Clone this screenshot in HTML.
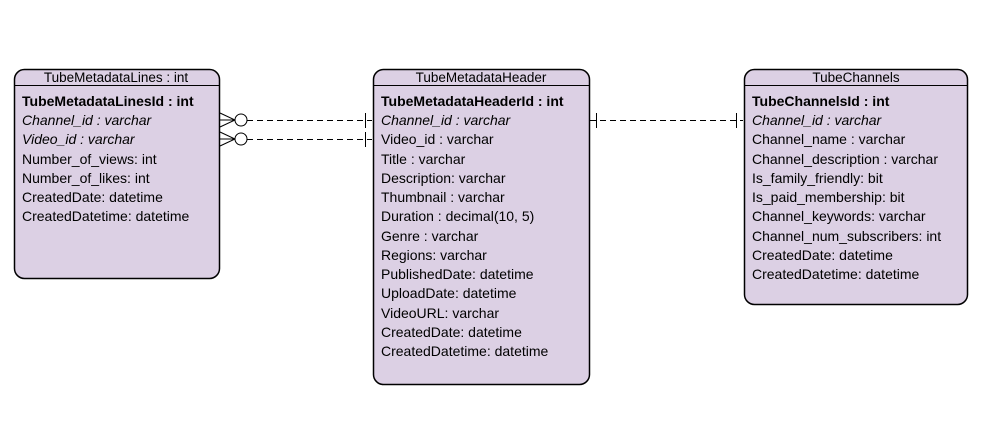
<!DOCTYPE html>
<html><head><meta charset="utf-8"><style>
html,body{margin:0;padding:0;background:#fff;}
svg text{font-family:"Liberation Sans",Arial,sans-serif;font-size:14px;fill:#000;}
</style></head><body>
<svg width="992" height="438" viewBox="0 0 992 438" xmlns="http://www.w3.org/2000/svg">
<g stroke="#000" stroke-width="1.5" fill="#dcd0e4">
<rect x="14.5" y="69.5" width="205" height="209" rx="10"/>
<rect x="373.5" y="69.5" width="216" height="315" rx="10"/>
<rect x="744.5" y="69.5" width="223" height="235" rx="10"/>
</g>
<g stroke="#000" stroke-width="1">
<line x1="14.5" y1="85.5" x2="219.5" y2="85.5"/>
<line x1="373.5" y1="85.5" x2="589.5" y2="85.5"/>
<line x1="744.5" y1="85.5" x2="967.5" y2="85.5"/>
</g>
<g text-anchor="middle">
<text x="116" y="82" style="font-size:13.5px">TubeMetadataLines : int</text>
<text x="481" y="82" style="font-size:13.5px">TubeMetadataHeader</text>
<text x="856" y="82" style="font-size:13.5px">TubeChannels</text>
</g>
<g>
<text x="22" y="106" font-weight="bold">TubeMetadataLinesId : int</text>
<text x="22" y="125" font-style="italic">Channel_id : varchar</text>
<text x="22" y="144" font-style="italic">Video_id : varchar</text>
<text x="22" y="164">Number_of_views: int</text>
<text x="22" y="183">Number_of_likes: int</text>
<text x="22" y="202">CreatedDate: datetime</text>
<text x="22" y="221">CreatedDatetime: datetime</text>

<text x="381" y="106" font-weight="bold">TubeMetadataHeaderId : int</text>
<text x="381" y="125" font-style="italic">Channel_id : varchar</text>
<text x="381" y="144">Video_id : varchar</text>
<text x="381" y="164">Title : varchar</text>
<text x="381" y="183">Description: varchar</text>
<text x="381" y="202">Thumbnail : varchar</text>
<text x="381" y="221">Duration : decimal(10, 5)</text>
<text x="381" y="241">Genre : varchar</text>
<text x="381" y="260">Regions: varchar</text>
<text x="381" y="279">PublishedDate: datetime</text>
<text x="381" y="298">UploadDate: datetime</text>
<text x="381" y="318">VideoURL: varchar</text>
<text x="381" y="337">CreatedDate: datetime</text>
<text x="381" y="356">CreatedDatetime: datetime</text>

<text x="752" y="106" font-weight="bold">TubeChannelsId : int</text>
<text x="752" y="125" font-style="italic">Channel_id : varchar</text>
<text x="752" y="144">Channel_name : varchar</text>
<text x="752" y="164">Channel_description : varchar</text>
<text x="752" y="183">Is_family_friendly: bit</text>
<text x="752" y="202">Is_paid_membership: bit</text>
<text x="752" y="221">Channel_keywords: varchar</text>
<text x="752" y="241">Channel_num_subscribers: int</text>
<text x="752" y="260">CreatedDate: datetime</text>
<text x="752" y="279">CreatedDatetime: datetime</text>
</g>
<g stroke="#000" stroke-width="1" fill="none">
<path d="M220 113 L235 120 L220 127 M220 120 L235 120"/>
<circle cx="241" cy="120" r="6" fill="#fff"/>
<line x1="247" y1="120.5" x2="372" y2="120.5" stroke-dasharray="6,4"/>
<line x1="365.5" y1="113" x2="365.5" y2="128"/>
<path d="M220 132 L235 139 L220 146 M220 139 L235 139"/>
<circle cx="241" cy="139" r="6" fill="#fff"/>
<line x1="247" y1="139.5" x2="372" y2="139.5" stroke-dasharray="6,4"/>
<line x1="365.5" y1="132" x2="365.5" y2="147"/>
<line x1="590" y1="120.5" x2="743" y2="120.5" stroke-dasharray="6,4"/>
<line x1="596.5" y1="113" x2="596.5" y2="128"/>
<line x1="736.5" y1="113" x2="736.5" y2="128"/>
</g>
</svg>
</body></html>
